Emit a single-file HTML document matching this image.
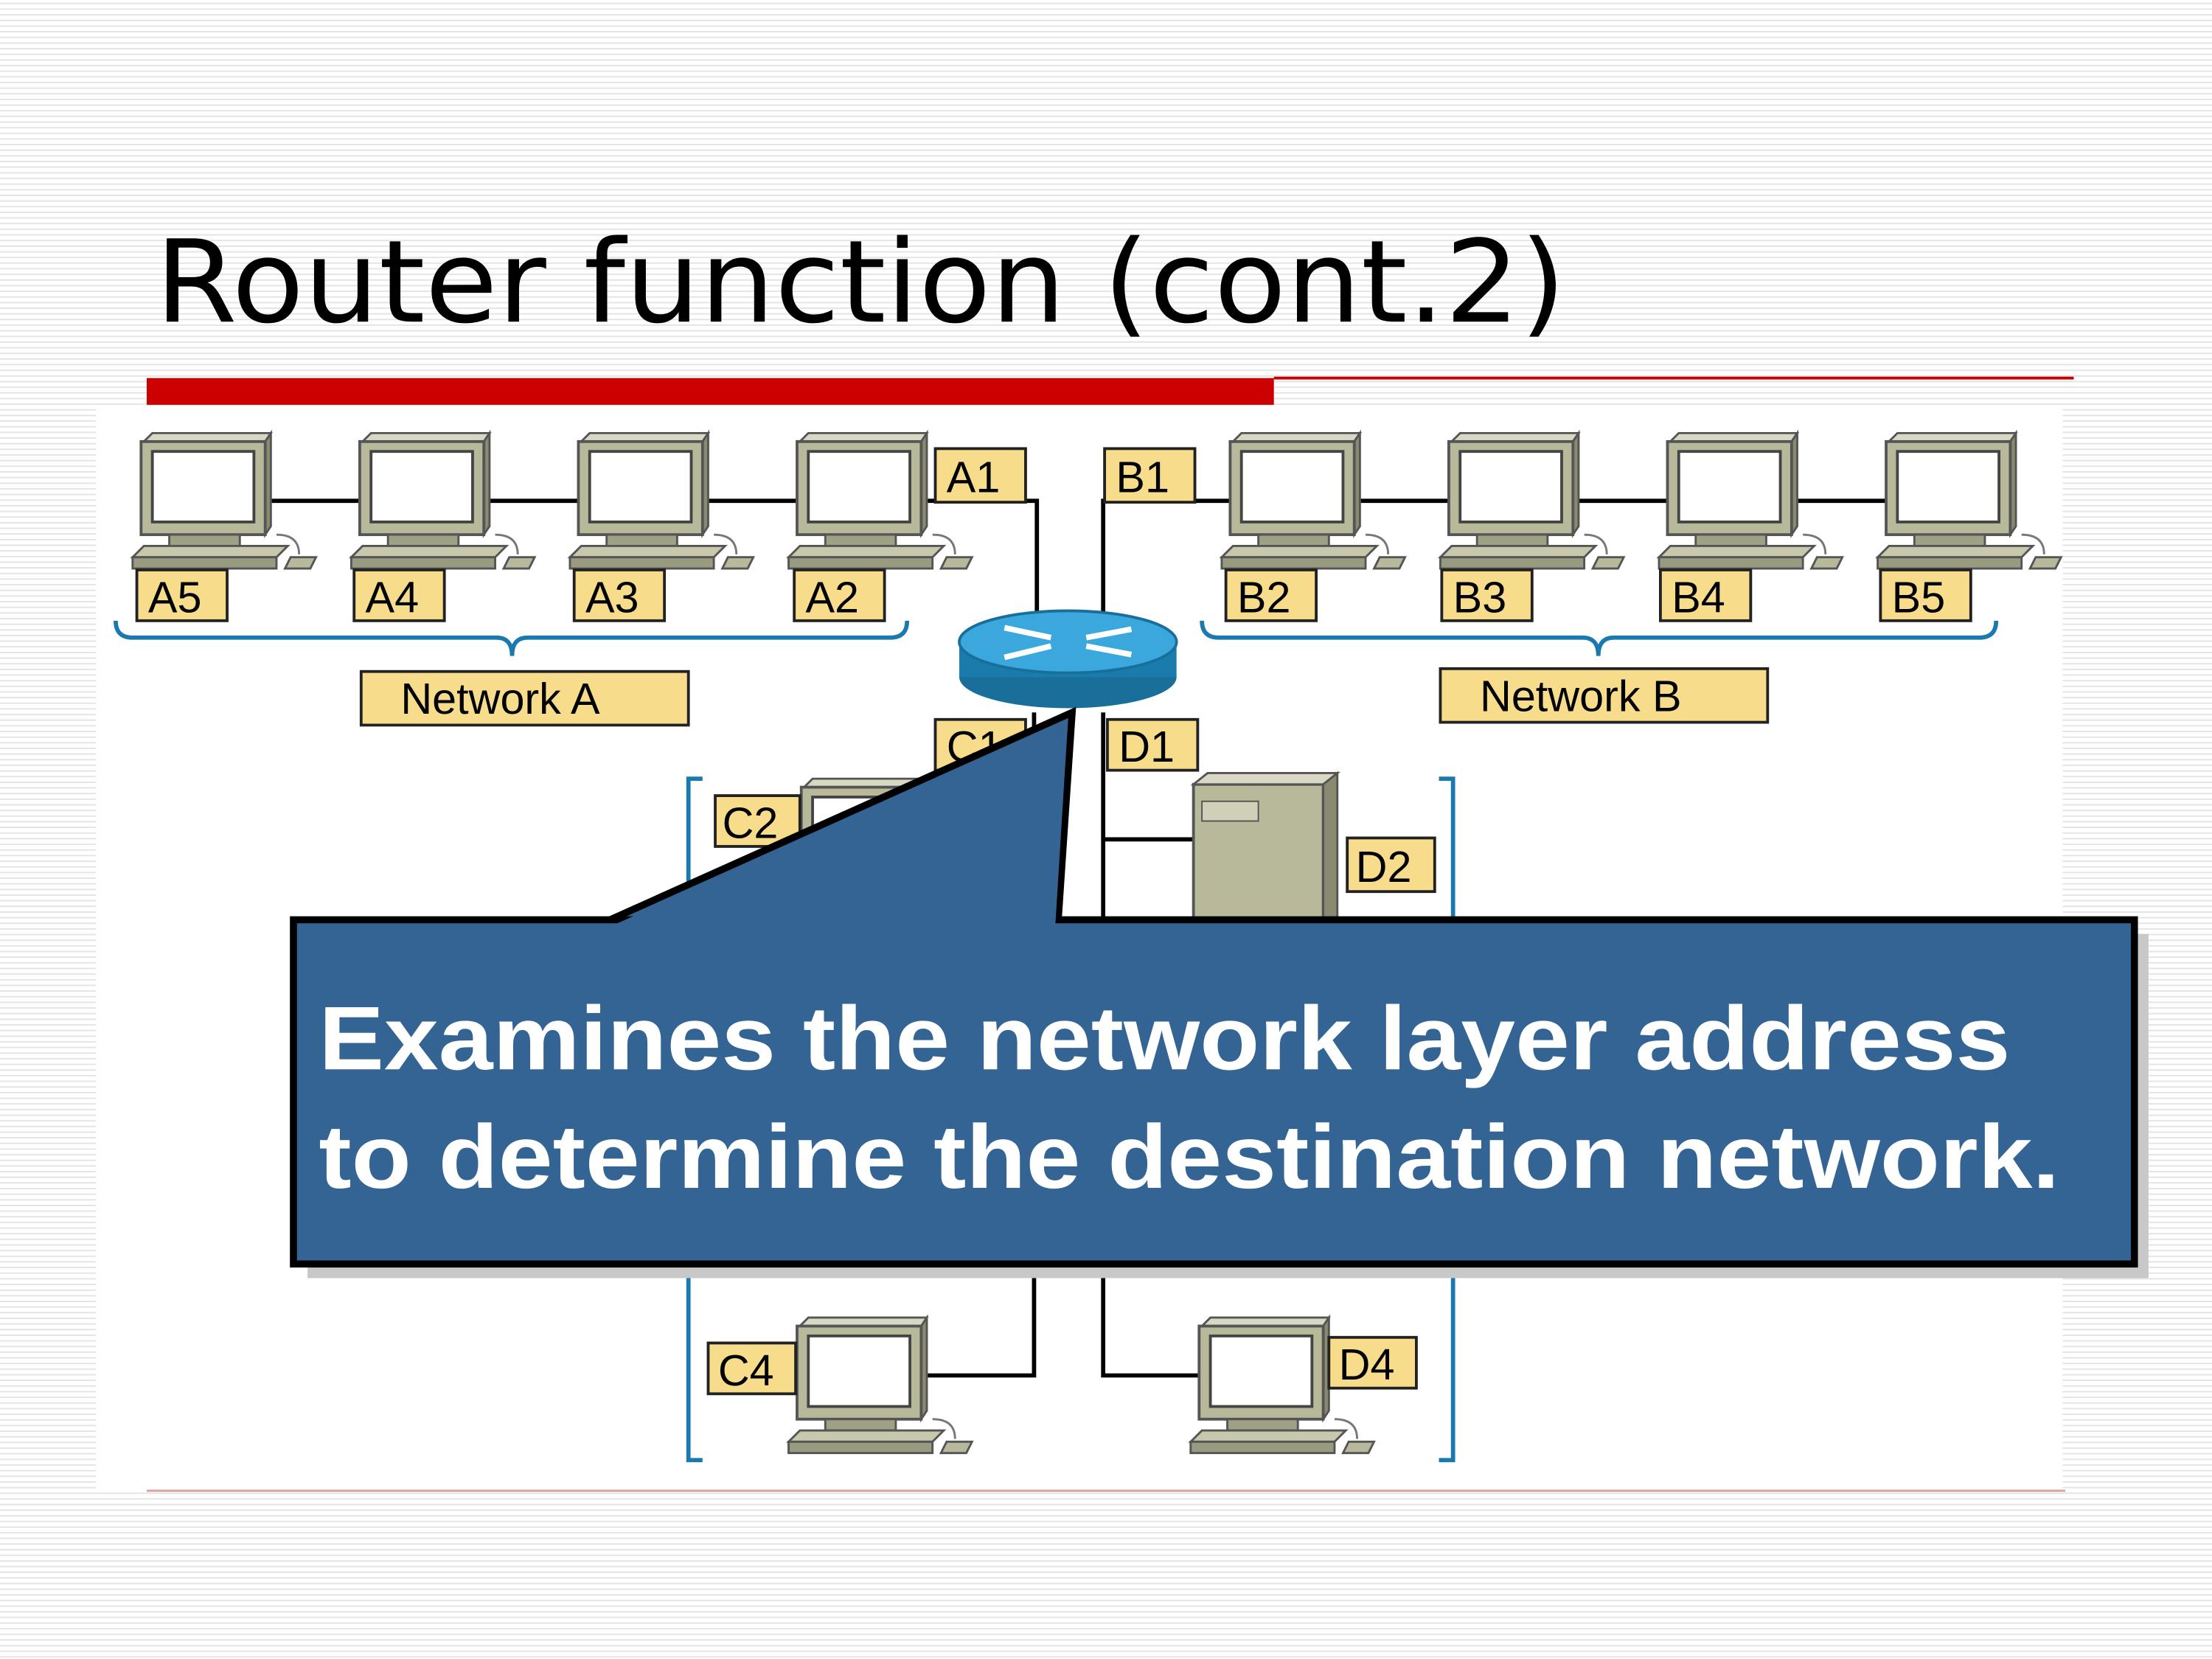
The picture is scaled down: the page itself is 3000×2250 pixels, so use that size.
<!DOCTYPE html>
<html><head><meta charset="utf-8"><style>
html,body{margin:0;padding:0;background:#fff}
svg{display:block}
</style></head><body>
<svg xmlns="http://www.w3.org/2000/svg" width="3000" height="2250" viewBox="0 0 1568 1176">
<defs>
<pattern id="st" width="8" height="4" patternUnits="userSpaceOnUse">
<rect width="8" height="4" fill="#fff"/><rect y="2" width="8" height="1" fill="#e4e4e4"/>
</pattern>
<g id="pc">
<polygon points="2,0 88,0 92,-6 8,-6" fill="#d8d8c4" stroke="#555" stroke-width="1.5"/>
<polygon points="88,0 92,-6 92,60 88,66" fill="#8a8a70" stroke="#555" stroke-width="1.5"/>
<rect x="0" y="0" width="88" height="66" fill="#b8b89a" stroke="#555" stroke-width="2"/>
<rect x="8" y="7" width="72" height="50" fill="#fff" stroke="#444" stroke-width="2"/>
<rect x="20" y="66" width="50" height="8" fill="#a0a084" stroke="#555" stroke-width="1.5"/>
<polygon points="-6,82 96,82 104,74 2,74" fill="#c8c8ac" stroke="#555" stroke-width="1.5"/>
<rect x="-6" y="82" width="102" height="8" fill="#9a9a80" stroke="#555" stroke-width="1.5"/>
<polygon points="102,90 120,90 124,82 106,82" fill="#b8b89a" stroke="#555" stroke-width="1.5"/>
<path d="M96,66 Q112,66 112,80" fill="none" stroke="#777" stroke-width="1.5"/>
</g>
</defs>
<rect width="1568" height="1176" fill="url(#st)"/>
<rect x="68" y="290" width="1394" height="766" fill="#fff"/>
<text x="110" y="228" font-family="DejaVu Sans, Liberation Sans, sans-serif" font-size="81" fill="#000" textLength="1000" lengthAdjust="spacingAndGlyphs">Router function (cont.2)</text>
<rect x="104" y="268" width="799" height="19" fill="#cc0000"/>
<rect x="903" y="267" width="567" height="2" fill="#cc0000"/>
<rect x="104" y="1056" width="1360" height="1.5" fill="#d9a0a0"/>

<g stroke="#000" stroke-width="3" fill="none">
<path d="M190,355 H735 V440"/>
<path d="M782,440 V355 H1340"/>
<path d="M733,505 V975 H655"/>
<path d="M782,505 V975 H850"/>
<path d="M782,595 H848"/>
<path d="M690,560 H733"/>
</g>
<g stroke="#1a7ab0" stroke-width="3" fill="none">
<path d="M82,440 Q82,452 94,452 H352 Q363,452 363,465 Q363,452 374,452 H631 Q643,452 643,440"/>
<path d="M852,440 Q852,452 864,452 H1122 Q1133,452 1133,465 Q1133,452 1144,452 H1403 Q1415,452 1415,440"/>
<path d="M498,552 H488 V1035 H498"/>
<path d="M1020,552 H1030 V1035 H1020"/>
</g>
<use href="#pc" x="100" y="313"/>
<use href="#pc" x="255" y="313"/>
<use href="#pc" x="410" y="313"/>
<use href="#pc" x="565" y="313"/>
<use href="#pc" x="872" y="313"/>
<use href="#pc" x="1027" y="313"/>
<use href="#pc" x="1182" y="313"/>
<use href="#pc" x="1337" y="313"/>
<use href="#pc" x="565" y="940"/>
<use href="#pc" x="850" y="940"/>
<use href="#pc" x="568" y="558"/>
<rect x="846" y="556" width="92" height="110" fill="#b8b89a" stroke="#555" stroke-width="2"/>
<polygon points="846,556 856,548 948,548 938,556" fill="#d8d8c4" stroke="#555" stroke-width="1.5"/>
<polygon points="938,556 948,548 948,660 938,666" fill="#8a8a70" stroke="#555" stroke-width="1.5"/>
<rect x="852" y="568" width="40" height="14" fill="#d0d0b8" stroke="#555"/>

<g font-family="Liberation Sans, sans-serif" font-size="31" fill="#000">
<g fill="#f7dc8c" stroke="#222" stroke-width="2">
<rect x="97" y="404" width="64" height="36"/><rect x="251" y="404" width="64" height="36"/>
<rect x="407" y="404" width="64" height="36"/><rect x="563" y="404" width="64" height="36"/>
<rect x="663" y="318" width="64" height="38"/><rect x="783" y="318" width="64" height="38"/>
<rect x="869" y="404" width="64" height="36"/><rect x="1022" y="404" width="64" height="36"/>
<rect x="1177" y="404" width="64" height="36"/><rect x="1333" y="404" width="64" height="36"/>
<rect x="256" y="476" width="232" height="38"/><rect x="1021" y="474" width="232" height="38"/>
<rect x="663" y="510" width="64" height="36"/><rect x="785" y="510" width="64" height="36"/>
<rect x="507" y="564" width="60" height="36"/><rect x="955" y="594" width="62" height="38"/>
<rect x="502" y="952" width="62" height="36"/><rect x="942" y="948" width="62" height="36"/>
</g>
<text x="105" y="434">A5</text><text x="259" y="434">A4</text><text x="415" y="434">A3</text><text x="571" y="434">A2</text>
<text x="671" y="349">A1</text><text x="791" y="349">B1</text>
<text x="877" y="434">B2</text><text x="1030" y="434">B3</text><text x="1185" y="434">B4</text><text x="1341" y="434">B5</text>
<text x="284" y="506">Network A</text><text x="1049" y="504">Network B</text>
<text x="671" y="540">C1</text><text x="793" y="540">D1</text>
<text x="512" y="594">C2</text><text x="961" y="625">D2</text>
<text x="509" y="982">C4</text><text x="949" y="978">D4</text>
</g>

<ellipse cx="757" cy="480" rx="77" ry="22" fill="#1a6f9a"/>
<rect x="680" y="455" width="154" height="25" fill="#1a7cad"/>
<ellipse cx="757" cy="455" rx="77" ry="22" fill="#3aa8dc" stroke="#1a6f9a" stroke-width="2"/>
<g stroke="#fff" stroke-width="4"><path d="M712,445 L745,452 M770,458 L802,464 M712,466 L745,458 M770,452 L802,446"/></g>

<rect x="218" y="662" width="1305" height="244" fill="#c8c8c8"/>
<polygon points="428,654 760,505 750,654" fill="#346494" stroke="#000" stroke-width="5" stroke-linejoin="miter"/>
<rect x="208" y="652" width="1305" height="244" fill="#346494" stroke="#000" stroke-width="5"/>
<polygon points="432,657 757,512 748,657" fill="#346494"/>
<g font-family="Liberation Sans, sans-serif" font-weight="bold" font-size="64" fill="#fff">
<text x="226" y="758" textLength="1199" lengthAdjust="spacingAndGlyphs">Examines the network layer address</text>
<text x="226" y="842" textLength="1234" lengthAdjust="spacingAndGlyphs">to determine the destination network.</text>
</g>
</svg>
</body></html>
